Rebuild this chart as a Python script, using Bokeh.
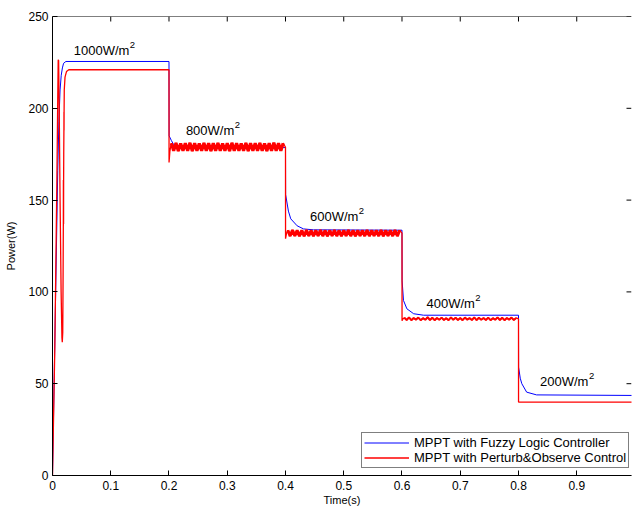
import math
from bokeh.plotting import figure
from bokeh.models import Range1d, Label, Legend, LegendItem, FixedTicker, Span
from bokeh.embed import file_html
from bokeh.resources import INLINE

# ---------------- data ----------------
x_ticks = [0, 0.1, 0.2, 0.3, 0.4, 0.5, 0.6, 0.7, 0.8, 0.9]
x_tick_labels = ["0", "0.1", "0.2", "0.3", "0.4", "0.5", "0.6", "0.7", "0.8", "0.9"]
y_ticks = [0, 50, 100, 150, 200, 250]
y_tick_labels = ["0", "50", "100", "150", "200", "250"]

# MPPT with Fuzzy Logic Controller
fuzzy_t = [0, 0.0034, 0.009, 0.011, 0.013, 0.015, 0.017, 0.019, 0.023, 0.2,
           0.2002, 0.204, 0.208, 0.215, 0.4,
           0.4002, 0.405, 0.409, 0.42, 0.431, 0.448, 0.6,
           0.6002, 0.6026, 0.6084, 0.62, 0.637, 0.8,
           0.8002, 0.803, 0.8057, 0.814, 0.831, 1.0]
fuzzy_p = [0, 62, 166, 193, 210, 218, 222, 224.5, 225.5, 225.5,
           185, 182.5, 180.2, 178.8, 178.6,
           153, 144, 139.8, 136, 134.3, 133.8, 133.6,
           106, 95.3, 90.8, 88.1, 87.3, 87.3,
           59, 53, 50, 45.4, 43.9, 43.6]

# MPPT with Perturb&Observe Control
po_t_start = [0, 0.004, 0.0075, 0.009, 0.0098, 0.0105, 0.0115, 0.013, 0.0148, 0.0162,
              0.0168, 0.0176, 0.0182, 0.0186, 0.0187, 0.0188, 0.0189, 0.019, 0.0191, 0.0193,
              0.0196, 0.0197, 0.0198, 0.0199, 0.0202, 0.0215, 0.024, 0.028, 0.2, 0.2001, 0.2015]
po_p_start = [0, 70, 160, 205, 226.4, 226, 200, 150, 100, 75,
              72.6, 78, 110, 137, 161, 137, 161, 137, 161, 175,
              188, 198, 188, 198, 210, 217, 220, 221, 221, 170.5, 176.5]

po_t_800 = [0.204, 0.208, 0.212, 0.216, 0.220, 0.224, 0.228, 0.232, 0.236, 0.240,
            0.244, 0.248, 0.252, 0.256, 0.260, 0.264, 0.268, 0.272, 0.276, 0.280,
            0.284, 0.288, 0.292, 0.296, 0.300, 0.304, 0.308, 0.312, 0.316, 0.320,
            0.324, 0.328, 0.332, 0.336, 0.340, 0.344, 0.348, 0.352, 0.356, 0.360,
            0.364, 0.368, 0.372, 0.376, 0.380, 0.384, 0.388, 0.392, 0.396]
po_p_800 = [181.0, 176.8, 181.1, 176.7, 180.9, 176.9, 181.0, 176.8, 181.2, 176.7,
            181.0, 176.8, 180.9, 176.9, 181.1, 176.8, 181.0, 176.7, 181.0, 176.8,
            181.1, 176.9, 180.9, 176.8, 181.0, 176.7, 181.2, 176.8, 181.0, 176.9,
            180.9, 176.8, 181.1, 176.7, 181.0, 176.8, 181.0, 176.9, 181.1, 176.8,
            180.9, 176.7, 181.0, 176.8, 181.2, 176.9, 181.0, 176.8, 181.0]

po_t_drop600 = [0.4, 0.4001, 0.4015]
po_p_drop600 = [178.8, 129, 131.5]

po_t_600 = [0.404, 0.408, 0.412, 0.416, 0.420, 0.424, 0.428, 0.432, 0.436, 0.440,
            0.444, 0.448, 0.452, 0.456, 0.460, 0.464, 0.468, 0.472, 0.476, 0.480,
            0.484, 0.488, 0.492, 0.496, 0.500, 0.504, 0.508, 0.512, 0.516, 0.520,
            0.524, 0.528, 0.532, 0.536, 0.540, 0.544, 0.548, 0.552, 0.556, 0.560,
            0.564, 0.568, 0.572, 0.576, 0.580, 0.584, 0.588, 0.592, 0.596]
po_p_600 = [133.6, 130.4, 133.7, 130.5, 133.5, 130.4, 133.6, 130.3, 133.7, 130.5,
            133.6, 130.4, 133.5, 130.5, 133.7, 130.4, 133.6, 130.3, 133.6, 130.5,
            133.7, 130.4, 133.5, 130.4, 133.6, 130.5, 133.7, 130.4, 133.6, 130.3,
            133.5, 130.5, 133.6, 130.4, 133.7, 130.4, 133.6, 130.5, 133.5, 130.4,
            133.7, 130.3, 133.6, 130.5, 133.6, 130.4, 133.7, 130.4, 133.6]

po_t_drop400 = [0.6, 0.6001, 0.6015]
po_p_drop400 = [132, 84.3, 85.2]

po_t_400 = [0.604, 0.608, 0.612, 0.616, 0.620, 0.624, 0.628, 0.632, 0.636, 0.640,
            0.644, 0.648, 0.652, 0.656, 0.660, 0.664, 0.668, 0.672, 0.676, 0.680,
            0.684, 0.688, 0.692, 0.696, 0.700, 0.704, 0.708, 0.712, 0.716, 0.720,
            0.724, 0.728, 0.732, 0.736, 0.740, 0.744, 0.748, 0.752, 0.756, 0.760,
            0.764, 0.768, 0.772, 0.776, 0.780, 0.784, 0.788, 0.792, 0.796]
po_p_400 = [85.9, 84.7, 86.1, 84.6, 85.8, 84.9, 86.0, 84.6, 85.7, 84.8,
            86.2, 84.7, 85.9, 84.6, 85.8, 84.8, 86.0, 84.7, 85.7, 84.6,
            86.1, 84.8, 85.9, 84.7, 85.8, 84.6, 86.0, 84.9, 85.7, 84.7,
            86.1, 84.6, 85.9, 84.8, 85.8, 84.7, 86.0, 84.6, 85.7, 84.8,
            86.1, 84.7, 85.9, 84.6, 85.8, 84.9, 86.0, 84.7, 85.8]

po_t_200 = [0.8, 0.8001, 1.0]
po_p_200 = [85.3, 40, 40]

po_t = po_t_start + po_t_800 + po_t_drop600 + po_t_600 + po_t_drop400 + po_t_400 + po_t_200
po_p = po_p_start + po_p_800 + po_p_drop600 + po_p_600 + po_p_drop400 + po_p_400 + po_p_200

series_names = ["MPPT with Fuzzy Logic Controller", "MPPT with Perturb&Observe Control"]

irradiance_labels = ["1000W/m", "800W/m", "600W/m", "400W/m", "200W/m"]
irradiance_label_t = [0.0365, 0.229, 0.442, 0.642, 0.837]
irradiance_label_p = [231.6, 188.0, 140.8, 93.6, 51.3]

# ---------------- figure ----------------
FONT = "Liberation Sans"
X_END = 0.994
Y_END = 250

p = figure(width=632, height=511, x_range=Range1d(0, X_END), y_range=Range1d(0, Y_END),
           output_backend="svg", toolbar_location=None,
           min_border_left=52, min_border_right=1, min_border_top=16, min_border_bottom=36)
p.outline_line_color = None
p.xgrid.visible = False
p.ygrid.visible = False
p.background_fill_color = "white"
p.border_fill_color = "white"

def style_axis(ax, ticks, labels):
    ax.ticker = FixedTicker(ticks=ticks)
    ax.major_label_overrides = {t: l for t, l in zip(ticks, labels)}
    ax.axis_line_color = "black"
    ax.axis_line_width = 1
    ax.major_tick_in = 5
    ax.major_tick_out = 0
    ax.major_tick_line_color = "black"
    ax.minor_tick_in = 0
    ax.minor_tick_out = 0
    ax.major_label_text_font = FONT
    ax.major_label_text_font_size = "12px"
    ax.major_label_text_color = "black"
    ax.axis_label_text_font = FONT
    ax.axis_label_text_font_size = "11px"
    ax.axis_label_text_font_style = "normal"
    ax.axis_label_text_color = "black"

style_axis(p.xaxis[0], x_ticks, x_tick_labels)
style_axis(p.yaxis[0], y_ticks, y_tick_labels)
p.xaxis[0].major_label_standoff = 5
p.xaxis[0].axis_label = "Time(s)"
p.xaxis[0].axis_label_standoff = 1
p.yaxis[0].major_label_standoff = 4
p.yaxis[0].axis_label = "Power(W)"
p.yaxis[0].axis_label_standoff = 8

# top frame line and box ticks (MATLAB style)
p.add_layout(Span(location=Y_END, dimension="width", line_color="black", line_width=1))
p.ray(x=x_ticks, y=[Y_END] * len(x_ticks), length=5, length_units="screen",
      angle=-math.pi / 2, line_color="black", line_width=1)
p.ray(x=[X_END] * len(y_ticks), y=y_ticks, length=5, length_units="screen",
      angle=math.pi, line_color="black", line_width=1)

r_fuzzy = p.line(fuzzy_t, fuzzy_p, line_color="#0000ff", line_width=1)
r_po = p.line(po_t, po_p, line_color="#ff0000", line_width=1.3)
# dense oscillation bands of the P&O controller
for bt, bp, w in [(po_t_800, po_p_800, 3.2), (po_t_600, po_p_600, 3.0), (po_t_400, po_p_400, 2.0)]:
    p.line(bt, bp, line_color="#ff0000", line_width=w)

text_w = {"1000W/m": 55.6, "800W/m": 48.4, "600W/m": 48.4, "400W/m": 48.4, "200W/m": 48.4}
for txt, tx, ty in zip(irradiance_labels, irradiance_label_t, irradiance_label_p):
    p.add_layout(Label(x=tx, y=ty, text=txt, text_font=FONT, text_font_size="13px",
                       text_color="black", text_baseline="alphabetic", text_align="left"))
    p.add_layout(Label(x=tx, y=ty, x_offset=text_w[txt] + 0.5, y_offset=5.5, text="2",
                       text_font=FONT, text_font_size="9.5px", text_color="black",
                       text_baseline="alphabetic", text_align="left"))

legend = Legend(items=[LegendItem(label=series_names[0], renderers=[r_fuzzy]),
                       LegendItem(label=series_names[1], renderers=[r_po])],
                location=(309, 7))
legend.label_text_font = FONT
legend.label_text_font_size = "13px"
legend.label_text_color = "black"
legend.glyph_width = 45
legend.glyph_height = 13
legend.label_height = 13
legend.label_standoff = 5
legend.spacing = 0
legend.padding = 2
legend.margin = 0
legend.border_line_color = "black"
legend.border_line_width = 1
legend.background_fill_color = "white"
legend.background_fill_alpha = 1
p.add_layout(legend)

open("out.html", "w").write(file_html(p, INLINE))
